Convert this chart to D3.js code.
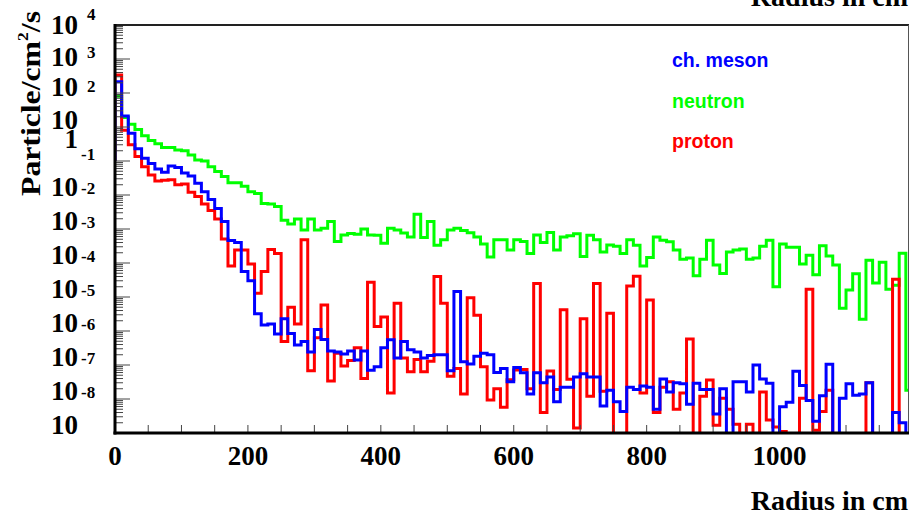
<!DOCTYPE html>
<html>
<head>
<meta charset="utf-8">
<script src="https://cdn.jsdelivr.net/npm/d3@7"></script>
<style>
  html, body { margin: 0; padding: 0; background: #fff; }
  svg { display: block; }
</style>
</head>
<body>
<svg id="chart" width="909" height="517"></svg>
<script>
// flux per 10 cm radial bin, 120 bins
const binWidth = 10;
const binEdges = d3.range(120).map(i => i * binWidth);

const meson = [
  214, 21, 6.5, 2.3, 1.2, 0.85, 0.58, 0.47, 0.71, 0.64,
  0.44, 0.36, 0.22, 0.125, 0.074, 0.04, 0.0165, 0.0046, 0.004, 0.00056,
  0.0003, 3.2e-5, 1.5e-5, 1.6e-5, 8.1e-6, 2.3e-5, 8.5e-6, 3.9e-6, 4.9e-6, 2.4e-6,
  1.1e-5, 5.6e-6, 2.6e-6, 2.4e-6, 2.1e-6, 2.6e-6, 1.4e-6, 2.6e-6, 7e-7, 8.9e-7,
  3.2e-6, 5.5e-6, 1.6e-6, 4.9e-6, 2.8e-6, 2.4e-6, 1.6e-6, 1.9e-6, 2e-6, 2e-6,
  6.8e-7, 1.45e-4, 1.25e-6, 1.07e-6, 1.8e-6, 2.2e-6, 2e-6, 6e-7, 7.9e-7, 3.2e-7,
  8.5e-7, 5.9e-7, 1.4e-7, 5.9e-7, 3e-7, 4.4e-7, 8.3e-8, 2.2e-7, 2.2e-7, 4.4e-7,
  5.5e-7, 4.4e-7, 4.4e-7, 6.2e-8, 1.8e-7, 8.3e-8, 4.3e-8, 2.2e-7, 1.9e-7, 2.4e-7,
  2.2e-7, 5e-8, 3.9e-7, 1.6e-7, 3e-7, 2.8e-7, 7e-8, 2.9e-7, 1.9e-7, 1.9e-7,
  3.6e-8, 2e-7, 0, 3.2e-7, 3.2e-7, 1.6e-7, 1e-6, 3.9e-7, 2.9e-7, 0,
  5.9e-8, 8e-8, 6.6e-7, 2.5e-7, 9e-8, 2.2e-8, 1.25e-7, 1.05e-6, 0, 1.05e-7,
  2.8e-7, 1.3e-7, 1.4e-7, 3e-7, 0, 0, 0, 4e-8, 2e-8, 0
];

const neutron = [
  80, 19, 12, 8.5, 5.5, 4, 3.2, 2.5, 2.5, 2.1,
  2.0, 1.5, 1.07, 1.0, 0.68, 0.49, 0.35, 0.23, 0.23, 0.18,
  0.125, 0.11, 0.056, 0.054, 0.046, 0.018, 0.014, 0.0197, 0.0093, 0.0197,
  0.0093, 0.0105, 0.0166, 0.0043, 0.0067, 0.0074, 0.007, 0.01, 0.0067, 0.0065,
  0.0038, 0.0105, 0.0093, 0.0076, 0.0058, 0.027, 0.0056, 0.0166, 0.0033, 0.0048,
  0.0093, 0.0105, 0.009, 0.0078, 0.0058, 0.0036, 0.0015, 0.0048, 0.0048, 0.0024,
  0.0048, 0.0043, 0.0019, 0.0067, 0.004, 0.0079, 0.0024, 0.0058, 0.0063, 0.0072,
  0.00155, 0.0065, 0.0048, 0.0021, 0.0034, 0.0031, 0.0019, 0.0048, 0.0033, 0.00081,
  0.00145, 0.0058, 0.0047, 0.0042, 0.0024, 0.0013, 0.0014, 0.00042, 0.0013, 0.0047,
  0.00087, 0.00049, 0.0021, 0.0024, 0.0026, 0.0013, 0.0014, 0.0031, 0.0047, 0.0002,
  0.0036, 0.0029, 0.0029, 0.00093, 0.0017, 0.00045, 0.0032, 0.0016, 0.00087, 0.000047,
  0.00016, 0.00048, 0.000022, 0.0012, 0.00026, 0.00105, 0.00017, 0.00022, 0.00195, 1.8e-7
];

const proton = [
  340, 8, 3, 1.35, 0.68, 0.39, 0.26, 0.27, 0.28, 0.2,
  0.21, 0.12, 0.09, 0.054, 0.035, 0.0196, 0.0051, 0.00081, 0.0024, 0.0024,
  0.00093, 0.00013, 0.00056, 0.0025, 0.0019, 4.9e-6, 5e-5, 1.6e-5, 0.0048, 6.8e-7,
  6.3e-6, 5.8e-5, 3.4e-7, 2.2e-6, 9.3e-7, 1.35e-6, 3.2e-6, 4e-7, 0.00027, 1.35e-5,
  2.6e-5, 1.5e-7, 6.5e-5, 1.6e-6, 6.3e-7, 1.45e-6, 6.3e-7, 1.3e-6, 0.0004, 6.5e-5,
  4.7e-7, 7.9e-7, 1.4e-7, 9.5e-5, 2.9e-5, 8.9e-7, 9.3e-8, 2e-7, 5.7e-8, 3.7e-7,
  7.1e-7, 7.4e-7, 2e-7, 2.5e-4, 4e-8, 6.7e-7, 1.9e-7, 4.2e-5, 3.8e-7, 1.4e-8,
  2.3e-5, 1.2e-7, 2.5e-4, 1.7e-7, 3.3e-5, 0, 0, 2.1e-4, 4.1e-4, 1.5e-7,
  8.1e-5, 4e-8, 2.2e-7, 3.2e-7, 5e-8, 1.5e-7, 5.8e-6, 0, 1.2e-7, 3.6e-7,
  1.7e-8, 1.05e-7, 5e-8, 1.8e-8, 0, 1.8e-8, 0, 1.6e-7, 2.4e-8, 1.5e-8,
  1.1e-8, 0, 0, 1.05e-7, 1.7e-4, 1.2e-8, 4.3e-8, 1.8e-7, 0, 0,
  0, 0, 0, 3e-7, 0, 0, 0, 3.3e-4, 0, 0
];

const xTickLabels = [0, 200, 400, 600, 800, 1000];
const yExponents = [4, 3, 2, 1, 0, -1, -2, -3, -4, -5, -6, -7, -8];

const seriesNames = ["ch. meson", "neutron", "proton"];
const seriesColors = ["#0000ff", "#00ff00", "#ff0000"];

const frameL = 115, frameR = 908.5, frameT = 25, frameB = 433;
const serif = "'Liberation Serif', 'Times New Roman', serif";

const svg = d3.select("#chart");

const x = d3.scaleLinear().domain([0, 1194]).range([frameL, frameR]);
const y = d3.scaleLog().domain([1e-8, 1e4]).range([frameB, frameT]);

svg.append("defs").append("clipPath").attr("id", "frame")
  .append("rect")
  .attr("x", frameL).attr("y", frameT)
  .attr("width", frameR - frameL).attr("height", frameB - frameT);

// step outline of one histogram; empty bins fall below the frame
const yOf = v => v > 0 ? y(v) : frameB + 10;
const stepPoints = vals => {
  const pts = [[x(0), y(1)]];
  vals.forEach((v, i) => {
    pts.push([x(binEdges[i]), yOf(v)]);
    pts.push([x(binEdges[i] + binWidth), yOf(v)]);
  });
  return pts;
};
const line = d3.line();

const hist = svg.append("g").attr("clip-path", "url(#frame)");
// neutron underneath, then proton, meson on top
[[neutron, 1], [proton, 2], [meson, 0]].forEach(([vals, k]) => {
  hist.append("path")
    .attr("d", line(stepPoints(vals)))
    .attr("fill", "none")
    .attr("stroke", seriesColors[k])
    .attr("stroke-width", 3)
    .attr("stroke-linejoin", "miter");
});

// y ticks: long at each decade, short for 2..9
const axisG = svg.append("g").attr("stroke", "#444").attr("stroke-width", 1);
yExponents.forEach(e => {
  axisG.append("line")
    .attr("x1", frameL).attr("x2", frameL + 15)
    .attr("y1", y(Math.pow(10, e))).attr("y2", y(Math.pow(10, e)));
  if (e < 4) {
    for (let k = 2; k <= 9; k++) {
      const yy = y(k * Math.pow(10, e));
      axisG.append("line")
        .attr("x1", frameL).attr("x2", frameL + 8)
        .attr("y1", yy).attr("y2", yy);
    }
  }
});

// x ticks every 50 cm
d3.range(50, 1194, 50).forEach(v => {
  axisG.append("line")
    .attr("x1", x(v)).attr("x2", x(v))
    .attr("y1", frameB).attr("y2", frameB - 8);
});

// frame
svg.append("line").attr("x1", frameL).attr("x2", frameR + 1).attr("y1", frameT).attr("y2", frameT)
  .attr("stroke", "#222").attr("stroke-width", 2);
svg.append("line").attr("x1", frameR).attr("x2", frameR).attr("y1", frameT).attr("y2", frameB)
  .attr("stroke", "#555").attr("stroke-width", 1);
svg.append("line").attr("x1", frameL).attr("x2", frameL).attr("y1", frameT - 1).attr("y2", frameB + 1.5)
  .attr("stroke", "#000").attr("stroke-width", 3);
svg.append("line").attr("x1", frameL - 1.5).attr("x2", frameR + 1).attr("y1", frameB).attr("y2", frameB)
  .attr("stroke", "#000").attr("stroke-width", 3);

// y labels: "10" with its exponent set beside it, as the log axis prints them
const labelShift = { 4: 9, 3: 7, 2: 3, 1: 2, 0: -13 };
const expShift = { 4: -5, 3: -1, 2: -1 };
const yLab = svg.append("g").attr("font-family", serif).attr("font-weight", "bold").attr("fill", "#000");
yExponents.forEach(e => {
  const yy = y(Math.pow(10, e));
  const base = e < 0 ? yy + 1 : yy + labelShift[e];
  yLab.append("text")
    .attr("x", 78).attr("y", base)
    .attr("text-anchor", "end")
    .attr("font-size", 27)
    .text(e === 0 ? "1" : "10");
  if (e >= 2 || e < 0) {
    yLab.append("text")
      .attr("x", e < 0 ? 81 : 87)
      .attr("y", e < 0 ? yy - 35 : yy + expShift[e])
      .attr("font-size", 17)
      .text(String(e));
  }
});

// x labels
svg.append("g").selectAll("text").data(xTickLabels).join("text")
  .attr("x", d => x(d)).attr("y", 465)
  .attr("text-anchor", "middle")
  .attr("font-family", serif).attr("font-weight", "bold").attr("font-size", 27)
  .text(d => d);

// axis titles
[6, 510].forEach(yy => {
  svg.append("text")
    .attr("x", 908).attr("y", yy)
    .attr("text-anchor", "end")
    .attr("font-family", serif).attr("font-weight", "bold").attr("font-size", 28)
    .text("Radius in cm");
});

const yTitle = svg.append("text")
  .attr("transform", "translate(40,196) rotate(-90)")
  .attr("font-family", serif).attr("font-weight", "bold").attr("font-size", 27)
  .attr("textLength", 185).attr("lengthAdjust", "spacingAndGlyphs");
yTitle.append("tspan").text("Particle/cm");
yTitle.append("tspan").attr("dy", -12).attr("font-size", 15).text("2");
yTitle.append("tspan").attr("dy", 12).text("/s");

// legend
svg.append("g").selectAll("text").data(seriesNames).join("text")
  .attr("x", 672).attr("y", (d, i) => 67 + i * 40.5)
  .attr("font-family", "'Liberation Sans', Arial, sans-serif")
  .attr("font-weight", "bold").attr("font-size", 19.5)
  .attr("fill", (d, i) => seriesColors[i])
  .text(d => d);
</script>
</body>
</html>
